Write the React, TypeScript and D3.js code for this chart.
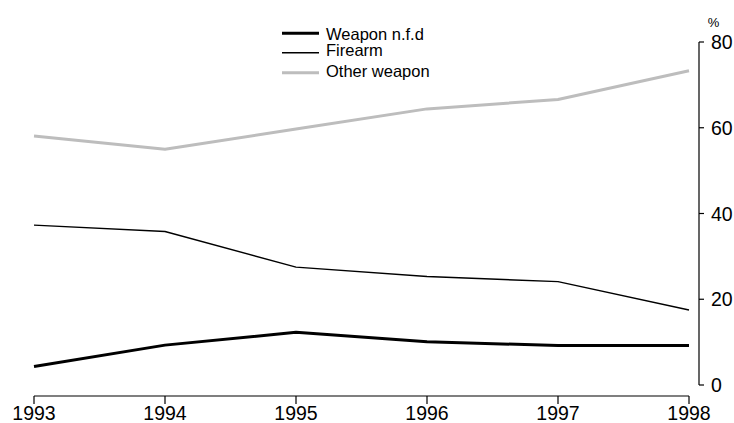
import * as d3 from "d3";
import React from "react";

const years = [1993, 1994, 1995, 1996, 1997, 1998];
const weaponNfd = [4.3, 9.3, 12.3, 10.1, 9.2, 9.2];
const firearm = [37.3, 35.8, 27.5, 25.3, 24.1, 17.5];
const otherWeapon = [58.1, 55.0, 59.7, 64.4, 66.6, 73.3];
const yTicks = [0, 20, 40, 60, 80];

const series = [
  { name: "Weapon n.f.d", values: weaponNfd, color: "#000", width: 3 },
  { name: "Firearm", values: firearm, color: "#000", width: 1.4 },
  { name: "Other weapon", values: otherWeapon, color: "#bdbdbd", width: 3 },
];

export default function App() {
  const width = 734;
  const height = 423;
  const font = "'Liberation Sans', Arial, sans-serif";

  const x = d3.scaleLinear().domain([1993, 1998]).range([34, 689]);
  const y = d3.scaleLinear().domain([0, 80]).range([385, 42]);

  const line = d3
    .line<number>()
    .x((d, i) => x(years[i]))
    .y((d) => y(d));

  const axisY = 396;
  const axisX = 699;

  return (
    <div style={{ position: "absolute", left: 0, top: 0 }}>
      <svg width={width} height={height} style={{ display: "block" }}>
        {/* series lines */}
        {series.map((s) => (
          <path
            key={s.name}
            d={line(s.values) || ""}
            fill="none"
            stroke={s.color}
            strokeWidth={s.width}
            strokeLinejoin="round"
          />
        ))}

        {/* x axis */}
        <g fontFamily={font} fontSize={19.5} fill="#000">
          <line x1={x(1993)} x2={x(1998)} y1={axisY} y2={axisY} stroke="#000" strokeWidth={1.2} />
          {years.map((yr) => (
            <g key={yr}>
              <line x1={x(yr)} x2={x(yr)} y1={axisY} y2={axisY + 8} stroke="#000" strokeWidth={1.2} />
              <text x={x(yr)} y={420} textAnchor="middle">
                {yr}
              </text>
            </g>
          ))}
        </g>

        {/* y axis */}
        <g fontFamily={font} fontSize={19.5} fill="#000">
          <line x1={axisX} x2={axisX} y1={y(80)} y2={y(0)} stroke="#000" strokeWidth={1.2} />
          {yTicks.map((t) => (
            <g key={t}>
              <line x1={axisX} x2={axisX + 5} y1={y(t)} y2={y(t)} stroke="#000" strokeWidth={1.2} />
              <text x={711} y={y(t) + 7}>
                {t}
              </text>
            </g>
          ))}
          <text x={713.5} y={27} fontSize={13} textAnchor="middle">
            %
          </text>
        </g>

        {/* legend */}
        <g fontFamily={font} fontSize={16.5} fill="#000">
          {series.map((s, i) => {
            const ly = [33.3, 52.7, 72.7][i];
            const ty = [39.5, 55.7, 77.3][i];
            return (
              <g key={s.name}>
                <line x1={282} x2={319} y1={ly} y2={ly} stroke={s.color} strokeWidth={s.width} />
                <text x={326} y={ty}>
                  {s.name}
                </text>
              </g>
            );
          })}
        </g>
      </svg>
    </div>
  );
}
